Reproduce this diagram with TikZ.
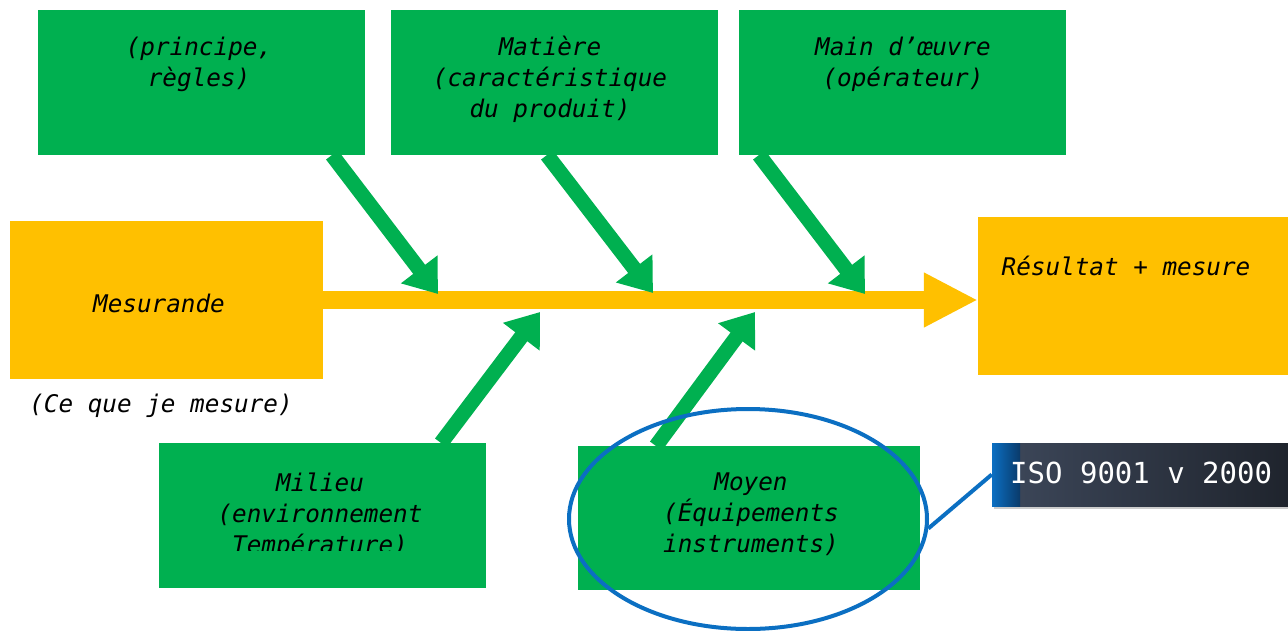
\documentclass[tikz,border=0pt]{standalone}
\usepackage{fontspec}
\usetikzlibrary{arrows.meta,shapes.geometric}
\newfontfamily\dmono{DejaVu Sans Mono}
\definecolor{fgreen}{HTML}{00B050}
\definecolor{forange}{HTML}{FFC000}
\definecolor{fblue}{HTML}{0B6FC2}
\definecolor{isoleft}{HTML}{3B4557}
\definecolor{isoright}{HTML}{1F242D}
\definecolor{stripdark}{HTML}{0A3A6A}
\tikzset{
  gbox/.style={fill=fgreen, draw=none, inner sep=0pt},
  obox/.style={fill=forange, draw=none, inner sep=0pt},
  txt/.style={font=\dmono\itshape\fontsize{24.3}{31}\selectfont, text=black, align=center, inner sep=0pt, anchor=base},
  garrow/.style={draw=fgreen, line width=15pt, -{Triangle[length=31pt,width=44pt]}},
  spine/.style={draw=forange, line width=18pt, -{Triangle[length=54pt,width=51pt]}},
}
\begin{document}
\begin{tikzpicture}[x=1pt,y=-1pt]
\useasboundingbox (0,0) rectangle (1288,630);
% boxes
\node[gbox, minimum width=327pt, minimum height=145pt] (b1) at (201.5,82.5) {};
\node[gbox, minimum width=327pt, minimum height=145pt] (b2) at (554.5,82.5) {};
\node[gbox, minimum width=327pt, minimum height=145pt] (b3) at (902.5,82.5) {};
\node[obox, minimum width=313pt, minimum height=158pt] (mes) at (166.5,300) {};
\node[obox, minimum width=310pt, minimum height=158pt] (res) at (1133,296) {};
\node[gbox, minimum width=327pt, minimum height=145pt] (mil) at (322.5,515.5) {};
\node[gbox, minimum width=342pt, minimum height=144pt] (moy) at (749,518) {};
% texts (base anchor = baseline of last line)
\node[txt] (t1) at (199,86) {(principe,\\règles)};
\node[txt] (t2) at (550,117) {Matière\\(caractéristique\\du produit)};
\node[txt] (t3) at (903,86) {Main d’œuvre\\(opérateur)};
\node[txt] (tm) at (159,312) {Mesurande};
\node[txt] (tc) at (161,412) {(Ce que je mesure)};
\node[txt] (tr) at (1126,275) {Résultat + mesure};
\begin{scope}
\clip (159,440) rectangle (486,550);
\node[txt] (tmi) at (320,553) {Milieu\\(environnement\\Température)};
\end{scope}
\node[txt] (tmo) at (751,552) {Moyen\\(Équipements\\instruments)};
% spine
\draw[spine] (mes.east) -- (mes.east -| res.west);
% branch arrows
\coordinate (s1) at (332,155); \coordinate (e1) at (438,294);
\coordinate (s2) at (547,155); \coordinate (e2) at (653,293);
\coordinate (s3) at (759,155); \coordinate (e3) at (865,294);
\coordinate (s4) at (441,443); \coordinate (e4) at (540,312);
\coordinate (s5) at (656,446); \coordinate (e5) at (755,312);
\draw[garrow] (s1) -- (e1);
\draw[garrow] (s2) -- (e2);
\draw[garrow] (s3) -- (e3);
\draw[garrow] (s4) -- (e4);
\draw[garrow] (s5) -- (e5);
% ellipse
\node[ellipse, draw=fblue, line width=4pt, minimum width=358pt, minimum height=220pt, inner sep=0pt] (ell) at (748,519) {};
% ISO box
\fill[gray!40] (994,446) rectangle (1290,509);
\shade[left color=isoleft, right color=isoright] (1020,443) rectangle (1288,506);
\shade[left color=fblue, right color=stripdark] (992,443) rectangle (1020,506);
\node[inner sep=0pt, minimum width=296pt, minimum height=63pt] (iso) at (1140,474.5) {};
\node[font=\dmono\fontsize{29}{31}\selectfont, text=white, anchor=base west, inner sep=0pt] (isot) at (1010,483) {ISO 9001 v 2000};
\draw[fblue, line width=4pt] (ell.-3) -- (iso.west);
\end{tikzpicture}
\end{document}
